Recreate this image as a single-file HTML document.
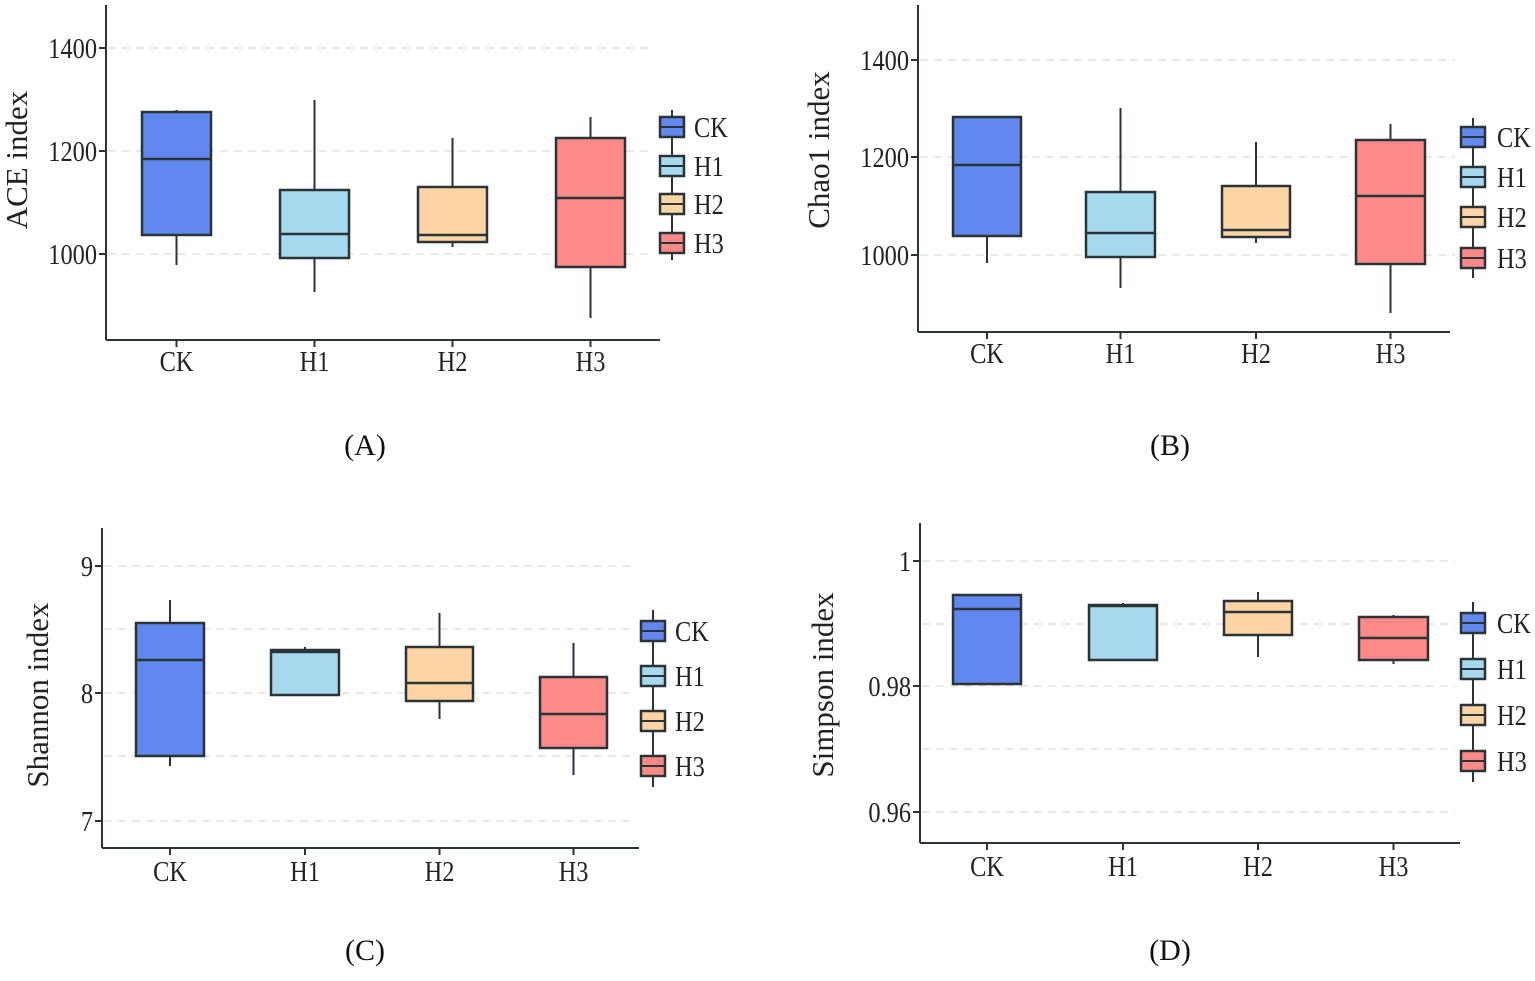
<!DOCTYPE html>
<html><head><meta charset="utf-8"><style>
html,body{margin:0;padding:0;background:#fff;}
svg{display:block;font-family:"Liberation Serif",serif;}
</style></head><body>
<svg id="s" width="1535" height="981" viewBox="0 0 1535 981" xmlns="http://www.w3.org/2000/svg"></svg>
<script>
const C=["#6088ee","#a6d8ee","#fdd5a5","#fd8a87"],N=["CK","H1","H2","H3"],S="#2a3438";
let h="";
function T(x,y,s,anchor,fs){return `<text transform="translate(${x},${y}) scale(0.84,1)" font-size="${fs||29}" text-anchor="${anchor}" fill="#222">${s}</text>`;}
function panel(p){
 p.grid.forEach(g=>{h+=`<line x1="${p.ax+2}" x2="${p.gr}" y1="${g}" y2="${g}" stroke="#e2e2e2" stroke-width="1.5" stroke-dasharray="8,6"/>`;});
 p.ticks.forEach(t=>{h+=`<line x1="${p.ax-7}" x2="${p.ax}" y1="${t[0]}" y2="${t[0]}" stroke="${S}" stroke-width="2"/>`+T(p.ax-9,t[0]+10,t[1],"end");});
 h+=`<line x1="${p.ax}" x2="${p.ax}" y1="${p.top}" y2="${p.bot}" stroke="${S}" stroke-width="2"/>`;
 h+=`<line x1="${p.ax}" x2="${p.xr}" y1="${p.bot}" y2="${p.bot}" stroke="${S}" stroke-width="2"/>`;
 h+=`<text transform="translate(${p.ylx},${p.yly}) rotate(-90)" font-size="31" text-anchor="middle" fill="#222">${p.yl}</text>`;
 p.b.forEach((b,i)=>{const [x0,x1,wt,bt,md,bb,wl]=b,cx=(x0+x1)/2;
  h+=`<line x1="${cx}" x2="${cx}" y1="${wt}" y2="${wl}" stroke="${S}" stroke-width="2"/>`;
  h+=`<rect x="${x0}" y="${bt}" width="${x1-x0}" height="${bb-bt}" fill="${C[i]}" stroke="${S}" stroke-width="2.5"/>`;
  h+=`<line x1="${x0}" x2="${x1}" y1="${md}" y2="${md}" stroke="${S}" stroke-width="2.5"/>`;
  h+=`<line x1="${cx}" x2="${cx}" y1="${p.bot}" y2="${p.bot+7}" stroke="${S}" stroke-width="2"/>`;
  h+=T(cx,p.xly,N[i],"middle");});
 const lx=p.lx,lc=lx+12;
 h+=`<line x1="${lc}" x2="${lc}" y1="${p.l0}" y2="${p.l1}" stroke="${S}" stroke-width="2"/>`;
 p.ly.forEach((y,i)=>{h+=`<rect x="${lx}" y="${y-10}" width="24" height="20" fill="${C[i]}" stroke="${S}" stroke-width="2.5"/><line x1="${lx}" x2="${lx+24}" y1="${y}" y2="${y}" stroke="${S}" stroke-width="2"/>`+T(p.lt,y+10,N[i],"start");});
 h+=`<text x="${p.px}" y="${p.py}" font-size="30" text-anchor="middle" fill="#111">${p.pl}</text>`;
}
panel({ax:106,top:5,bot:340,xr:660,gr:654,grid:[48,151,254],ticks:[[48,"1400"],[151,"1200"],[254,"1000"]],yl:"ACE index",ylx:27,yly:160,
 b:[[142,211,110,112,159,235,265],[280,349,100,190,234,258,292],[418,487,138,187,235,242,247],[556,625,117,138,198,267,318]],xly:371,
 lx:660,lt:694,l0:110,l1:260,ly:[127,166,204,243],px:365,py:455,pl:"(A)"});
panel({ax:918,top:5,bot:332,xr:1450,gr:1455,grid:[60,157,255],ticks:[[60,"1400"],[157,"1200"],[255,"1000"]],yl:"Chao1 index",ylx:829,yly:150,
 b:[[953,1021,117,117,165,236,263],[1086,1155,108,192,233,257,288],[1222,1290,142,186,230,237,243],[1356,1425,124,140,196,264,313]],xly:363,
 lx:1461,lt:1497,l0:118,l1:278,ly:[137,177,217,258],px:1170,py:455,pl:"(B)"});
panel({ax:102,top:528,bot:848,xr:639,gr:636,grid:[566,629,693,756,821],ticks:[[566,"9"],[693,"8"],[821,"7"]],yl:"Shannon index",ylx:48,yly:695,
 b:[[136,204,600,623,660,756,766],[271,339,647,650,652,695,695],[406,473,613,647,683,701,719],[540,607,643,677,714,748,775]],xly:881,
 lx:641,lt:675,l0:610,l1:787,ly:[631,676,721,766],px:365,py:960,pl:"(C)"});
panel({ax:920,top:523,bot:843,xr:1460,gr:1455,grid:[561,624,686,749,812],ticks:[[561,"1"],[686,"0.98"],[812,"0.96"]],yl:"Simpson index",ylx:833,yly:685,
 b:[[953,1021,594,595,609,684,685],[1089,1157,603,605,606,660,660],[1224,1292,592,601,612,635,657],[1359,1428,615,617,638,660,664]],xly:876,
 lx:1461,lt:1497,l0:602,l1:782,ly:[623,669,715,761],px:1170,py:960,pl:"(D)"});
document.getElementById("s").innerHTML=h;
</script>
</body></html>
